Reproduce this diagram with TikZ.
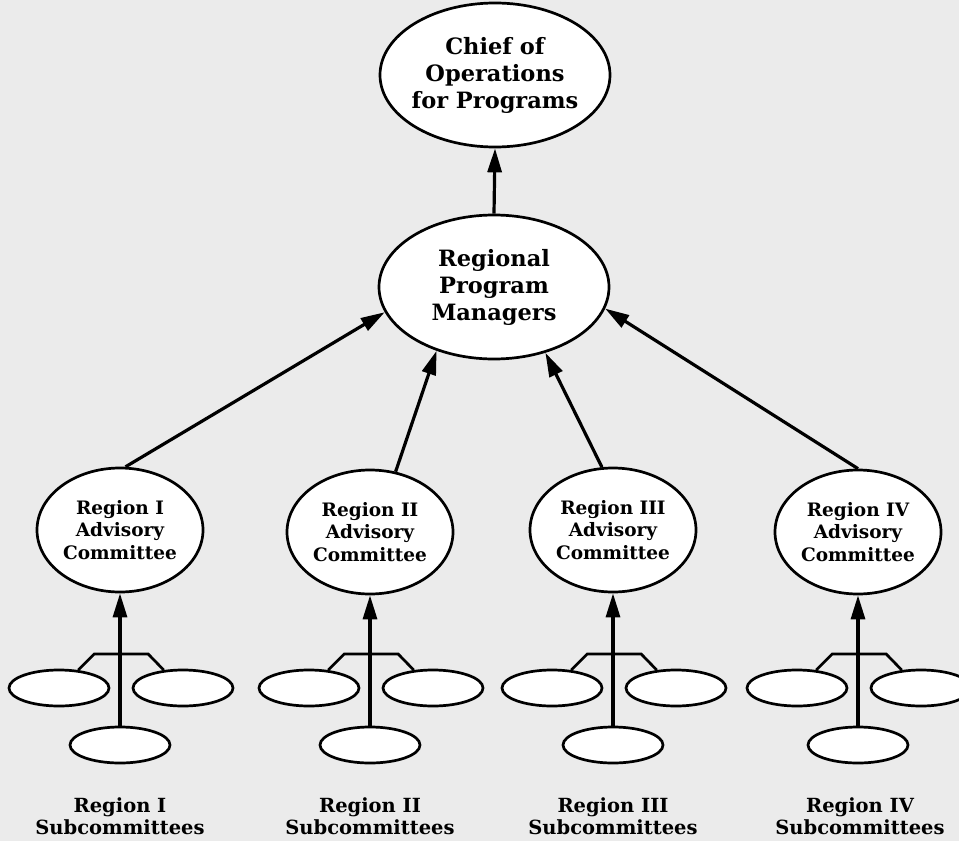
\documentclass[tikz,border=0pt]{standalone}
\usepackage{fontspec}
\setmainfont{DejaVu Serif}
\usetikzlibrary{positioning, shapes.geometric, arrows.meta}

\begin{document}
\begin{tikzpicture}[x=1pt, y=-1pt]
    % Styles
    \tikzstyle{bubble} = [ellipse, draw, line width=2.7pt, fill=white, inner sep=0pt, align=center]
    \tikzstyle{top bubble} = [bubble, minimum width=230pt, minimum height=144pt, inner xsep=-10pt, font=\fontsize{22.5}{27}\selectfont\bfseries]
    \tikzstyle{region bubble} = [bubble, minimum width=166pt, minimum height=124pt, inner xsep=-6pt, font=\fontsize{18.5}{22.5}\selectfont\bfseries]
    \tikzstyle{sub bubble} = [bubble, minimum width=100pt, minimum height=36pt]
    \tikzstyle{group name} = [align=center, font=\fontsize{19.5}{22}\selectfont\bfseries]
    \tikzstyle{link} = [-{Triangle[length=24pt, width=14pt]}, line width=3.2pt]
    \tikzstyle{bracket} = [line width=2.7pt]

    % Paper
    \clip (0, 0) rectangle (959, 841);
    \fill[black!8] (0, 0) rectangle (959, 841);

    % Nodes
    \node[top bubble] (chief) at (495, 75) {Chief of\\Operations\\for Programs};
    \node[top bubble] (managers) at (494, 287) {Regional\\Program\\Managers};

    \node[region bubble] (reg1) at (120, 530) {Region I\\Advisory\\Committee};
    \node[region bubble] (reg2) at (370, 532) {Region II\\Advisory\\Committee};
    \node[region bubble] (reg3) at (613, 530) {Region III\\Advisory\\Committee};
    \node[region bubble] (reg4) at (858, 532) {Region IV\\Advisory\\Committee};

    \node[sub bubble] (sub1a) at (59, 688) {};
    \node[sub bubble] (sub1b) at (183, 688) {};
    \node[sub bubble] (sub1c) at (120, 745) {};
    \node[sub bubble] (sub2a) at (309, 688) {};
    \node[sub bubble] (sub2b) at (433, 688) {};
    \node[sub bubble] (sub2c) at (370, 745) {};
    \node[sub bubble] (sub3a) at (552, 688) {};
    \node[sub bubble] (sub3b) at (676, 688) {};
    \node[sub bubble] (sub3c) at (613, 745) {};
    \node[sub bubble] (sub4a) at (797, 688) {};
    \node[sub bubble] (sub4b) at (921, 688) {};
    \node[sub bubble] (sub4c) at (858, 745) {};

    \node[group name] (name1) at (120, 816) {Region I\\Subcommittees};
    \node[group name] (name2) at (370, 816) {Region II\\Subcommittees};
    \node[group name] (name3) at (613, 816) {Region III\\Subcommittees};
    \node[group name] (name4) at (860, 816) {Region IV\\Subcommittees};

    % Edges
    \draw[link] (managers.north) -- (chief.south);
    \draw[link] (reg1.85) -- (managers.193);
    \draw[link] (reg2.67) -- (managers.228);
    \draw[link] (reg3.100) -- (managers.308);
    \draw[link] (reg4.north) -- (managers.349);

    \draw[bracket] (sub1a.43) -- ++(16, -16) -- ++(54, 0) -- (sub1b.137);
    \draw[bracket] (sub2a.43) -- ++(16, -16) -- ++(54, 0) -- (sub2b.137);
    \draw[bracket] (sub3a.43) -- ++(16, -16) -- ++(54, 0) -- (sub3b.137);
    \draw[bracket] (sub4a.43) -- ++(16, -16) -- ++(54, 0) -- (sub4b.137);

    \draw[link] (sub1c.north) -- (reg1.south);
    \draw[link] (sub2c.north) -- (reg2.south);
    \draw[link] (sub3c.north) -- (reg3.south);
    \draw[link] (sub4c.north) -- (reg4.south);
\end{tikzpicture}
\end{document}
